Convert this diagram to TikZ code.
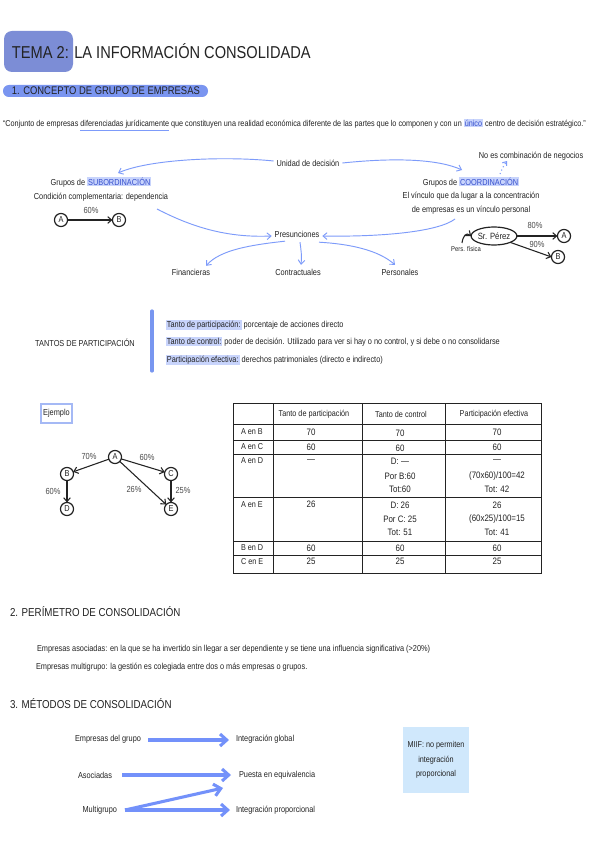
\documentclass[tikz,border=0pt]{standalone}
\usepackage{fontspec}
\setmainfont[FakeStretch=0.85]{Liberation Sans}
\usetikzlibrary{arrows.meta,shapes.geometric,calc}
\definecolor{ink}{RGB}{35,35,35}
\definecolor{grayink}{RGB}{75,75,75}
\definecolor{titlebox}{RGB}{124,141,214}
\definecolor{pill}{RGB}{122,149,240}
\definecolor{arrowblue}{RGB}{125,155,250}
\definecolor{fatblue}{RGB}{115,145,250}
\definecolor{hlblue}{RGB}{200,212,252}
\definecolor{txtblue}{RGB}{55,80,205}
\definecolor{miif}{RGB}{208,232,252}
\definecolor{barblue}{RGB}{120,150,240}
\definecolor{ejborder}{RGB}{165,185,245}
\newcommand\hlb[1]{{\setlength{\fboxsep}{0.7pt}\colorbox{hlblue}{#1}}}
\newcommand\hlt[1]{{\setlength{\fboxsep}{0.7pt}\colorbox{hlblue}{\textcolor{txtblue}{#1}}}}
\newcommand\bluline[1]{\textcolor{arrowblue}{\underline{\textcolor{ink}{#1}}}}
\begin{document}
\begin{tikzpicture}[x=0.75pt,y=-0.75pt,
  every node/.style={inner sep=0pt,outer sep=0pt,text=ink},
  ftxt/.style={font=\fontsize{6.5}{7.8}\selectfont},
  ftab/.style={font=\fontsize{6.4}{7.5}\selectfont},
  fval/.style={font=\fontsize{7}{8}\selectfont},
  fhead/.style={font=\fontsize{8.6}{10}\selectfont},
  flab/.style={font=\fontsize{6.6}{7.5}\selectfont,text=grayink},
  circ/.style={circle,draw=ink,line width=0.9pt,minimum size=9.8pt,font=\fontsize{6.5}{7}\selectfont},
  barrow/.style={draw=arrowblue,line width=0.7pt,-{Straight Barb[length=3pt,width=5pt]}},
  karrow/.style={draw=ink,line width=0.8pt,-{Straight Barb[length=3pt,width=5pt]}},
  fatarrow/.style={draw=fatblue,line width=2.3pt,-{Straight Barb[length=5pt,width=9pt]}},
  tline/.style={draw=ink,line width=0.6pt}
]
\useasboundingbox (0,0) rectangle (599,848);
\fill[white] (0,0) rectangle (599,848);

% ---------- title
\fill[titlebox,rounded corners=6pt] (4,31) rectangle (73,72);
\node[anchor=west,font=\fontsize{12.9}{14}\selectfont] (title) at (12,51) {TEMA 2: LA INFORMACIÓN CONSOLIDADA};
\fill[pill,rounded corners=4.4pt] (3,85) rectangle (208,97);
\node[anchor=west,font=\fontsize{8.3}{9}\selectfont] (sub1) at (12,91) {1. CONCEPTO DE GRUPO DE EMPRESAS};

\node[anchor=west,font=\fontsize{6.4}{7.5}\selectfont] (quote) at (3,125) {“Conjunto de empresas \bluline{diferenciadas jurídicamente} que constituyen una realidad económica diferente de las partes que lo componen y con un \hlt{único} centro de decisión estratégico.”};

% ---------- concept diagram
\node[ftxt] (unidad) at (308,163) {Unidad de decisión};
\node[ftxt] (subord) at (101,182) {Grupos de \hlt{SUBORDINACIÓN}};
\node[ftxt] (condic) at (101,197) {Condición complementaria: dependencia};
\node[flab] (p60) at (91,210) {60\%};
\node[circ] (a1) at (61,220) {A};
\node[circ] (b1) at (119,220) {B};
\draw[karrow] (a1) -- (b1);

\node[ftxt] (presun) at (297,234) {Presunciones};
\node[ftxt] (finan) at (191,272) {Financieras};
\node[ftxt] (contr) at (298,272) {Contractuales};
\node[ftxt] (perso) at (400,272) {Personales};

\node[ftxt] (noes) at (531,156) {No es combinación de negocios};
\node[ftxt] (coord) at (471,182) {Grupos de \hlt{COORDINACIÓN}};
\node[ftxt] (vinc1) at (471,196) {El vínculo que da lugar a la concentración};
\node[ftxt] (vinc2) at (471,210) {de empresas es un vínculo personal};

\coordinate (e1) at (118,173);
\coordinate (e2) at (462,170);
\coordinate (s3) at (157,209);
\coordinate (s4) at (455,219);
\draw[barrow] ($(unidad.west)+(-3,-2)$) .. controls (225,156) and (150,159) .. (e1);
\draw[barrow] ($(unidad.east)+(3,0)$) .. controls (400,157) and (440,160) .. (e2);
\draw[barrow] (s3) .. controls (190,226) and (225,238) .. ($(presun.west)+(-3,2)$);
\draw[barrow] (s4) .. controls (438,232) and (380,237) .. ($(presun.east)+(3,2)$);
\draw[barrow] ($(presun.south)+(-12,4)$) .. controls (250,245) and (220,250) .. ($(finan.north east)+(-4,-3)$);
\draw[barrow] ($(presun.south)+(3,5)$) .. controls (301,250) and (302,256) .. ($(contr.north)+(3,-4)$);
\draw[barrow] ($(presun.south)+(22,5)$) .. controls (350,244) and (378,250) .. ($(perso.north)+(-5,-4)$);
\coordinate (dots) at (500,174);
\draw[arrowblue,line width=0.8pt,dotted,-{Straight Barb[length=2.5pt,width=4pt]}] (dots) .. controls (502,169) and (504,165) .. (507,161);

\node[ellipse,draw=ink,line width=0.9pt,minimum width=32pt,minimum height=13.5pt,font=\fontsize{6.8}{8}\selectfont] (perez) at (494,236) {Sr. Pérez};
\node[font=\fontsize{5.2}{6}\selectfont] (pfis) at (466,249) {Pers. física};
\node[circ] (a2) at (564,236) {A};
\node[circ] (b2) at (558,257) {B};
\node[flab] (p80) at (535,225) {80\%};
\node[flab] (p90) at (537,244) {90\%};
\draw[karrow] (perez.east) -- (a2.west);
\draw[karrow] (perez.south east) -- (b2.west);
\coordinate (pf) at (462,243);
\draw[karrow] (pf) .. controls (463,236) and (466,232) .. (perez.west);

% ---------- tantos
\node[font=\fontsize{6.5}{8}\selectfont] (tantos) at (85,343) {TANTOS DE PARTICIPACIÓN};
\draw[barblue,line width=2.4pt,line cap=round] (152,311) -- (152,371);
\node[anchor=west,ftxt] (tp1) at (166,325) {\hlb{Tanto de participación:} porcentaje de acciones directo};
\node[anchor=west,ftxt] (tp2) at (166,342) {\hlb{Tanto de control:} poder de decisión. Utilizado para ver si hay o no control, y si debe o no consolidarse};
\node[anchor=west,ftxt] (tp3) at (166,360) {\hlb{Participación efectiva:} derechos patrimoniales (directo e indirecto)};

% ---------- ejemplo
\draw[ejborder,line width=0.8pt] (41,404) rectangle (72,423);
\node[ftxt] (ejemplo) at (56.5,413.5) {Ejemplo};
\node[circ] (ga) at (115,457) {A};
\node[circ] (gb) at (67,474) {B};
\node[circ] (gc) at (171,474) {C};
\node[circ] (gd) at (67,509) {D};
\node[circ] (ge) at (171,509) {E};
\draw[karrow] (ga) -- (gb);
\draw[karrow] (ga) -- (gc);
\draw[karrow] (ga) -- (ge);
\draw[karrow] (gb) -- (gd);
\draw[karrow] (gc) -- (ge);
\node[flab] (l70) at (89,456) {70\%};
\node[flab] (l60a) at (147,457) {60\%};
\node[flab] (l60b) at (53,491) {60\%};
\node[flab] (l26) at (134,489) {26\%};
\node[flab] (l25) at (183,490) {25\%};

% ---------- table
\draw[tline] (233,403) rectangle (541,573);
\foreach \xx in {273,362,445} \draw[tline] (\xx,403) -- (\xx,573);
\foreach \yy in {424,440,454,497,541,555} \draw[tline] (233,\yy) -- (541,\yy);
\node[ftab] (h2) at (314,414) {Tanto de participación};
\node[ftab] (h3) at (401,414) {Tanto de control};
\node[ftab] (h4) at (494,414) {Participación efectiva};
\node[ftab,anchor=west] (r1) at (241,432) {A en B};
\node[ftab,anchor=west] (r2) at (241,447) {A en C};
\node[ftab,anchor=west] (r3) at (241,461) {A en D};
\node[ftab,anchor=west] (r4) at (241,505) {A en E};
\node[ftab,anchor=west] (r5) at (241,548) {B en D};
\node[ftab,anchor=west] (r6) at (241,562) {C en E};
\begin{scope}[every node/.append style={fval}]
\node (v12) at (311,432) {70};
\node (v13) at (400,433) {70};
\node (v14) at (497,432) {70};
\node (v22) at (311,447) {60};
\node (v23) at (400,448) {60};
\node (v24) at (497,447) {60};
\node (v32) at (311,461) {—};
\node (v33a) at (400,461) {D: —};
\node (v33b) at (400,476) {Por B:60};
\node (v33c) at (400,489) {Tot:60};
\node (v34a) at (497,461) {—};
\node (v34b) at (497,476) {(70x60)/100=42};
\node (v34c) at (497,489) {Tot: 42};
\node (v42) at (311,504) {26};
\node (v43a) at (400,505) {D: 26};
\node (v43b) at (400,519) {Por C: 25};
\node (v43c) at (400,532) {Tot: 51};
\node (v44a) at (497,505) {26};
\node (v44b) at (497,519) {(60x25)/100=15};
\node (v44c) at (497,532) {Tot: 41};
\node (v52) at (311,548) {60};
\node (v53) at (400,548) {60};
\node (v54) at (497,548) {60};
\node (v62) at (311,561) {25};
\node (v63) at (400,561) {25};
\node (v64) at (497,561) {25};
\end{scope}

% ---------- section 2
\node[anchor=west,fhead] (sec2) at (10,612) {2. PERÍMETRO DE CONSOLIDACIÓN};
\node[anchor=west,ftxt] (asoc) at (37,649) {Empresas asociadas: en la que se ha invertido sin llegar a ser dependiente y se tiene una influencia significativa (>20\%)};
\node[anchor=west,ftxt] (multi) at (36,667) {Empresas multigrupo: la gestión es colegiada entre dos o más empresas o grupos.};

% ---------- section 3
\node[anchor=west,fhead] (sec3) at (10,704) {3. MÉTODOS DE CONSOLIDACIÓN};
\node[anchor=east,ftxt] (egrupo) at (141,739) {Empresas del grupo};
\node[anchor=east,ftxt] (asocs) at (112,775) {Asociadas};
\node[anchor=east,ftxt] (multig) at (117,810) {Multigrupo};
\node[anchor=west,ftxt] (iglob) at (236,739) {Integración global};
\node[anchor=west,ftxt] (pequi) at (239,775) {Puesta en equivalencia};
\node[anchor=west,ftxt] (iprop) at (236,810) {Integración proporcional};
\draw[fatarrow] ($(egrupo.east)+(7,1)$) -- ($(iglob.west)+(-7,1)$);
\draw[fatarrow] ($(asocs.east)+(10,0)$) -- ($(pequi.west)+(-8,0)$);
\draw[fatarrow] ($(multig.east)+(8,0)$) -- ($(pequi.west)+(-16,13)$);
\draw[fatarrow] ($(multig.east)+(8,0)$) -- ($(iprop.west)+(-6,0)$);
\node[fill=miif,minimum width=49pt,minimum height=50pt,align=center,font=\fontsize{6.4}{10.9}\selectfont] (miifbox) at (436,760) {MIIF: no permiten\\integración\\proporcional};
\end{tikzpicture}
\end{document}
